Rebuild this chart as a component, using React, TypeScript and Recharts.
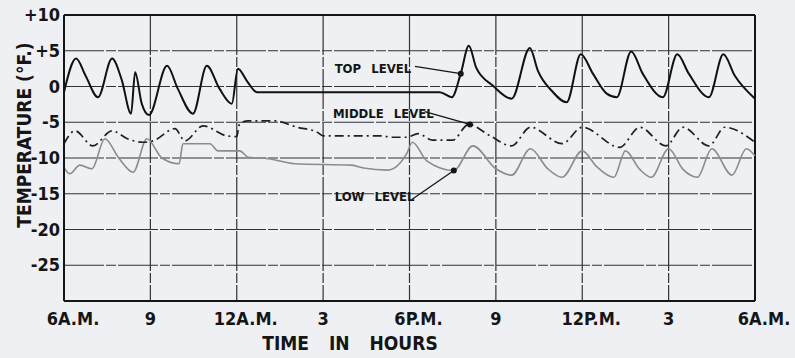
import React from 'react';
import { LineChart, Line, XAxis, YAxis, CartesianGrid, ReferenceLine, ReferenceDot } from 'recharts';

// hours after 6 A.M.
const hourTicks = [0, 3, 6, 9, 12, 15, 18, 21, 24];
const hourLabels = ['6A.M.', '9', '12A.M.', '3', '6P.M.', '9', '12P.M.', '3', '6A.M.'];
const tempTicks = [-30, -25, -20, -15, -10, -5, 0, 5, 10];

const topHours = [0, 0.42, 0.75, 1.18, 1.67, 2.0, 2.33, 2.47, 2.7, 2.95, 3.58, 3.95, 4.48, 4.96, 5.4, 5.83, 6.04, 6.35, 6.7,
  13.05, 13.47, 13.78, 14.06, 14.32, 14.9, 15.55, 16.18, 16.46, 16.94, 17.46, 17.95, 18.37, 18.85, 19.2, 19.7, 20.1, 20.8,
  21.3, 21.7, 22.4, 22.9, 23.3, 24];
const topTemps = [-0.8, 3.9, 1.5, -1.5, 3.9, 1.0, -3.8, 2.0, -2.4, -4.0, 2.9, -0.3, -3.8, 2.9, -0.3, -2.4, 2.5, 0.8, -0.8,
  -0.8, -1.5, 1.8, 5.7, 2.6, 0.1, -1.7, 5.4, 2.2, -0.6, -2.2, 4.5, 1.8, -1.0, -1.5, 4.9, 1.8, -1.5,
  4.5, 1.8, -1.5, 4.5, 1.5, -1.7];

const midHours = [0, 0.38, 1.0, 1.67, 2.2, 2.74, 3.1, 3.85, 4.2, 4.83, 5.65, 6.0, 6.1, 6.4, 7.3, 8.1, 8.8, 9.0, 11.0, 11.4,
  11.9, 12.3, 12.8, 13.5, 14.05, 14.8, 15.55, 16.2, 17.3, 18.0, 19.3, 20.0, 20.9, 21.5, 22.4, 22.95, 24];
const midTemps = [-8.0, -6.2, -8.3, -6.2, -7.3, -7.8, -7.6, -5.9, -7.6, -5.5, -6.9, -7.0, -5.2, -4.8, -4.8, -5.7, -6.4, -6.9, -6.9, -7.1,
  -7.1, -6.6, -7.5, -7.5, -5.3, -6.9, -8.3, -5.7, -8.0, -5.7, -8.5, -5.7, -8.3, -5.7, -8.3, -5.7, -7.8];

const lowHours = [0, 0.2, 0.55, 0.97, 1.42, 1.9, 2.4, 2.88, 3.4, 4.0, 4.13, 5.07, 5.35, 6.1, 6.4, 7.1, 8.0, 10.0, 10.4, 11.25,
  11.9, 12.1, 12.6, 13.54, 14.2, 15.0, 15.55, 16.2, 16.8, 17.3, 18.0, 18.5, 19.1, 19.5, 20.0, 20.4, 21.0, 21.5, 22.0, 22.5,
  23.2, 23.7, 24];
const lowTemps = [-11.3, -12.2, -11.0, -11.5, -7.3, -10.0, -12.0, -7.3, -10.0, -10.8, -8.0, -8.0, -9.0, -9.0, -9.9, -10.1, -10.8, -11.0, -11.4, -11.7,
  -9.4, -7.8, -10.4, -11.75, -8.3, -11.5, -12.4, -8.7, -11.5, -12.7, -9.0, -11.2, -12.7, -9.0, -11.6, -12.7, -8.7, -11.6, -12.7, -8.7,
  -12.4, -8.7, -9.7];

const toPoints = (hours: number[], temps: number[]) => hours.map((h, i) => ({ hour: h, temp: temps[i] }));
const topData = toPoints(topHours, topTemps);
const midData = toPoints(midHours, midTemps);
const lowData = toPoints(lowHours, lowTemps);

const FONT = "'DejaVu Sans Condensed', 'DejaVu Sans', sans-serif";
const INK = '#151515';

const HourTick = ({ x, y, payload }: any) => {
  const i = hourTicks.indexOf(payload.value);
  const label = hourLabels[i] ?? '';
  const shift = label.endsWith('M.') ? 9 : 0;
  return (
    <text x={x + shift} y={y} dy={16} textAnchor="middle" fill={INK} fontFamily={FONT} fontWeight="bold" fontSize={18}>
      {label}
    </text>
  );
};

const TempTick = ({ x, y, payload }: any) => {
  const v = payload.value;
  if (v === -30) return <g />;
  const label = v > 0 ? `+${v}` : `${v}`;
  return (
    <text x={x} y={y} dy={6} textAnchor="end" fill={INK} fontFamily={FONT} fontWeight="bold" fontSize={18}>
      {label}
    </text>
  );
};

const noteStyle = { fill: INK, fontFamily: FONT, fontWeight: 'bold', fontSize: 13, wordSpacing: 6 } as any;

export default function App() {
  return (
    <div style={{ position: 'absolute', left: 0, top: 0, width: 795, height: 358, background: '#eef0f4' }}>
      <LineChart width={795} height={358} margin={{ top: 15, right: 40, bottom: 0, left: 0 }}>
        <CartesianGrid stroke="#333" strokeWidth={1.2} strokeDasharray="40 2 10 2" />
        <XAxis
          dataKey="hour"
          type="number"
          domain={[0, 24]}
          ticks={hourTicks}
          tick={<HourTick />}
          tickLine={false}
          axisLine={{ stroke: INK, strokeWidth: 2 }}
          height={57}
          allowDuplicatedCategory={false}
          label={{
            content: () => (
              <text x={350} y={350} textAnchor="middle" fill={INK} fontFamily={FONT} fontWeight="bold" fontSize={19} wordSpacing={14}>
                TIME IN HOURS
              </text>
            ),
          }}
        />
        <YAxis
          type="number"
          domain={[-30, 10]}
          ticks={tempTicks}
          tick={<TempTick />}
          tickLine={false}
          tickSize={0}
          tickMargin={4}
          width={64}
          axisLine={{ stroke: INK, strokeWidth: 2 }}
          label={{
            content: () => (
              <text transform="translate(31,135) rotate(-90)" textAnchor="middle" fill={INK} fontFamily={FONT} fontWeight="bold" fontSize={19}>
                TEMPERATURE (°F.)
              </text>
            ),
          }}
        />
        <ReferenceLine y={10} stroke={INK} strokeWidth={2} />
        <ReferenceLine x={24} stroke={INK} strokeWidth={2} />

        <Line data={lowData} dataKey="temp" type="monotone" stroke="#8c8c8c" strokeWidth={1.6} dot={false} isAnimationActive={false} />
        <Line data={midData} dataKey="temp" type="monotone" stroke="#202020" strokeWidth={1.7} strokeDasharray="9 4 2 4" dot={false} isAnimationActive={false} />
        <Line data={topData} dataKey="temp" type="monotone" stroke="#111" strokeWidth={2} dot={false} isAnimationActive={false} />

        <ReferenceLine segment={[{ x: 12.19, y: 2.8 }, { x: 13.78, y: 1.8 }]} stroke={INK} strokeWidth={1.3} />
        <ReferenceLine segment={[{ x: 12.53, y: -3.5 }, { x: 14.1, y: -5.3 }]} stroke={INK} strokeWidth={1.3} />
        <ReferenceLine segment={[{ x: 12.08, y: -15.8 }, { x: 13.54, y: -11.75 }]} stroke={INK} strokeWidth={1.3} />
        <ReferenceDot x={13.78} y={1.8} r={3} fill={INK} stroke="none" />
        <ReferenceDot x={14.1} y={-5.3} r={3} fill={INK} stroke="none" />
        <ReferenceDot x={13.54} y={-11.75} r={3} fill={INK} stroke="none" />

        <ReferenceDot x={9.4} y={2.5} r={0} stroke="none" label={{ value: 'TOP LEVEL', position: 'right', offset: 0, ...noteStyle }} />
        <ReferenceDot x={9.34} y={-3.8} r={0} stroke="none" label={{ value: 'MIDDLE LEVEL', position: 'right', offset: 0, ...noteStyle }} />
        <ReferenceDot x={9.4} y={-15.4} r={0} stroke="none" label={{ value: 'LOW LEVEL', position: 'right', offset: 0, ...noteStyle }} />
      </LineChart>
    </div>
  );
}
